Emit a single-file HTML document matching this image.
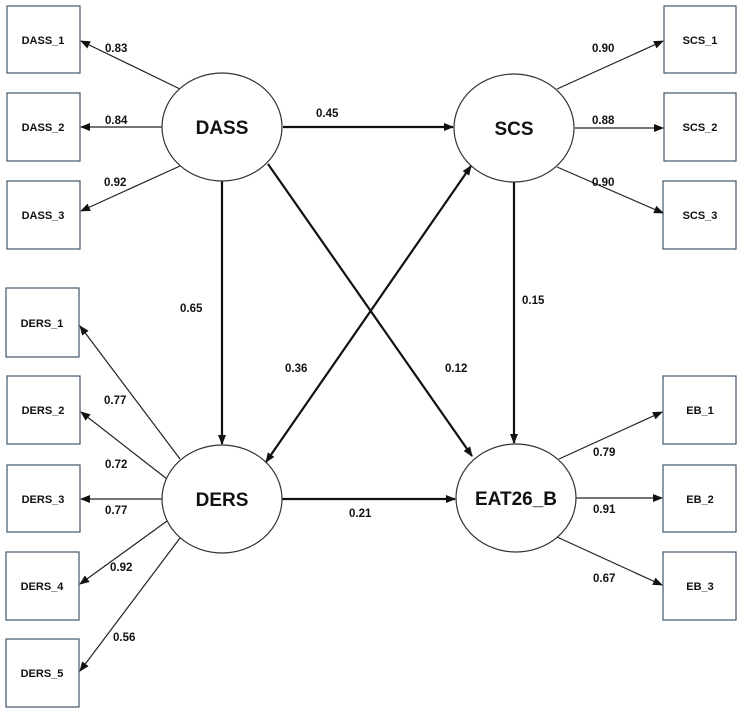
<!DOCTYPE html>
<html><head><meta charset="utf-8"><style>
html,body{margin:0;padding:0;background:#fff;}
svg{display:block;}
text{font-family:"Liberation Sans",Arial,sans-serif;fill:#111;}
.b{fill:#fff;stroke:#41576a;stroke-width:1.2;}
.e{fill:#fff;stroke:#333;stroke-width:1.2;}
.t{stroke:#222;stroke-width:1.2;fill:none;}
.k{stroke:#111;stroke-width:2.2;fill:none;}
.s{font-size:11px;font-weight:bold;text-anchor:middle;}
.l{font-size:11.5px;font-weight:bold;}
.n{font-size:19px;font-weight:bold;text-anchor:middle;}
</style></head><body>
<svg width="740" height="712" viewBox="0 0 740 712" xmlns="http://www.w3.org/2000/svg">
<defs>
<marker id="a" markerWidth="10" markerHeight="8" refX="9" refY="4" orient="auto" markerUnits="userSpaceOnUse"><path d="M0,0 L10,4 L0,8 z" fill="#111"/></marker>
<marker id="as" markerWidth="10" markerHeight="8" refX="1" refY="4" orient="auto" markerUnits="userSpaceOnUse"><path d="M10,0 L0,4 L10,8 z" fill="#111"/></marker>
</defs>
<!-- boxes left -->
<rect class="b" x="7" y="6" width="73" height="67"/><text class="s" x="43" y="44">DASS_1</text>
<rect class="b" x="7" y="93" width="73" height="68"/><text class="s" x="43" y="131">DASS_2</text>
<rect class="b" x="7" y="181" width="73" height="68"/><text class="s" x="43" y="219">DASS_3</text>
<rect class="b" x="6" y="288" width="73" height="69"/><text class="s" x="42" y="327">DERS_1</text>
<rect class="b" x="7" y="376" width="73" height="68"/><text class="s" x="43" y="414">DERS_2</text>
<rect class="b" x="7" y="465" width="73" height="67"/><text class="s" x="43" y="503">DERS_3</text>
<rect class="b" x="6" y="552" width="73" height="68"/><text class="s" x="42" y="590">DERS_4</text>
<rect class="b" x="6" y="639" width="73" height="68"/><text class="s" x="42" y="677">DERS_5</text>
<!-- boxes right -->
<rect class="b" x="664" y="6" width="72" height="67"/><text class="s" x="700" y="44">SCS_1</text>
<rect class="b" x="664" y="93" width="72" height="68"/><text class="s" x="700" y="131">SCS_2</text>
<rect class="b" x="663" y="181" width="73" height="68"/><text class="s" x="700" y="219">SCS_3</text>
<rect class="b" x="663" y="376" width="73" height="68"/><text class="s" x="700" y="414">EB_1</text>
<rect class="b" x="663" y="465" width="73" height="67"/><text class="s" x="700" y="503">EB_2</text>
<rect class="b" x="663" y="552" width="73" height="68"/><text class="s" x="700" y="590">EB_3</text>
<!-- loadings -->
<line class="t" x1="180" y1="89" x2="81" y2="41" marker-end="url(#a)"/>
<line class="t" x1="163" y1="127" x2="81" y2="127" marker-end="url(#a)"/>
<line class="t" x1="180" y1="166" x2="81" y2="211" marker-end="url(#a)"/>
<line class="t" x1="180" y1="459" x2="80" y2="326" marker-end="url(#a)"/>
<line class="t" x1="167" y1="479" x2="81" y2="412" marker-end="url(#a)"/>
<line class="t" x1="163" y1="499" x2="81" y2="499" marker-end="url(#a)"/>
<line class="t" x1="167" y1="521" x2="80" y2="584" marker-end="url(#a)"/>
<line class="t" x1="180" y1="538" x2="80" y2="671" marker-end="url(#a)"/>
<line class="t" x1="557" y1="89" x2="663" y2="41" marker-end="url(#a)"/>
<line class="t" x1="575" y1="128" x2="663" y2="128" marker-end="url(#a)"/>
<line class="t" x1="557" y1="167" x2="663" y2="213" marker-end="url(#a)"/>
<line class="t" x1="559" y1="459" x2="662" y2="412" marker-end="url(#a)"/>
<line class="t" x1="576" y1="498" x2="662" y2="498" marker-end="url(#a)"/>
<line class="t" x1="557" y1="537" x2="662" y2="585" marker-end="url(#a)"/>
<!-- structural -->
<line class="k" x1="283" y1="127" x2="453" y2="127" marker-end="url(#a)"/>
<line class="k" x1="222" y1="181" x2="222" y2="444" marker-end="url(#a)"/>
<line class="k" x1="514" y1="182" x2="514" y2="443" marker-end="url(#a)"/>
<line class="k" x1="268" y1="164" x2="472" y2="456" marker-end="url(#a)"/>
<line class="k" x1="266" y1="462" x2="471" y2="166" marker-end="url(#a)" marker-start="url(#as)"/>
<line class="k" x1="282" y1="499" x2="455" y2="499" marker-end="url(#a)"/>
<!-- ellipses -->
<ellipse class="e" cx="222" cy="127" rx="60" ry="54"/><text class="n" x="222" y="134">DASS</text>
<ellipse class="e" cx="514" cy="128" rx="60" ry="54"/><text class="n" x="514" y="135">SCS</text>
<ellipse class="e" cx="222" cy="499" rx="60" ry="54"/><text class="n" x="222" y="506">DERS</text>
<ellipse class="e" cx="516" cy="498" rx="60" ry="54"/><text class="n" x="516" y="505">EAT26_B</text>
<!-- labels -->
<text class="l" x="105" y="52">0.83</text>
<text class="l" x="105" y="124">0.84</text>
<text class="l" x="104" y="186">0.92</text>
<text class="l" x="104" y="404">0.77</text>
<text class="l" x="105" y="468">0.72</text>
<text class="l" x="105" y="514">0.77</text>
<text class="l" x="110" y="571">0.92</text>
<text class="l" x="113" y="641">0.56</text>
<text class="l" x="592" y="52">0.90</text>
<text class="l" x="592" y="124">0.88</text>
<text class="l" x="592" y="186">0.90</text>
<text class="l" x="593" y="456">0.79</text>
<text class="l" x="593" y="513">0.91</text>
<text class="l" x="593" y="582">0.67</text>
<text class="l" x="316" y="117">0.45</text>
<text class="l" x="180" y="312">0.65</text>
<text class="l" x="285" y="372">0.36</text>
<text class="l" x="445" y="372">0.12</text>
<text class="l" x="522" y="304">0.15</text>
<text class="l" x="349" y="517">0.21</text>
</svg>
</body></html>
